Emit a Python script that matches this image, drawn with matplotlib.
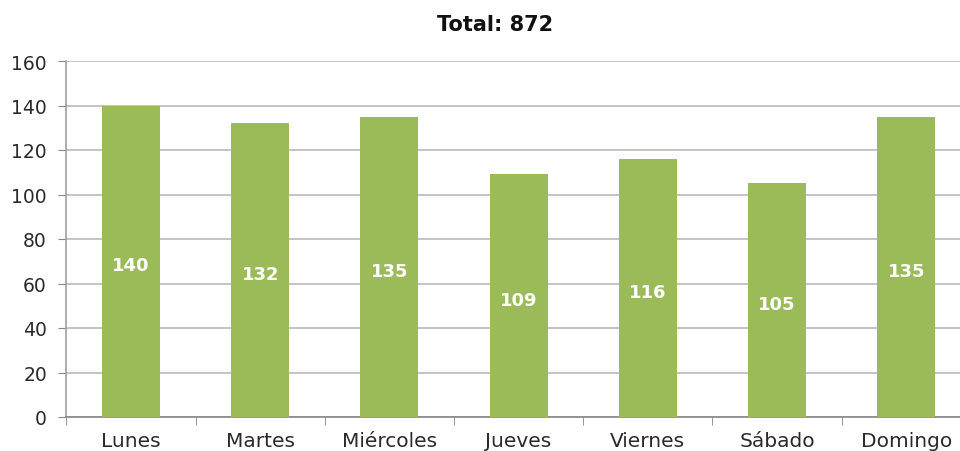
import matplotlib
matplotlib.use("Agg")
import matplotlib.pyplot as plt

categories = ["Lunes", "Martes", "Miércoles", "Jueves", "Viernes", "Sábado", "Domingo"]
values = [140, 132, 135, 109, 116, 105, 135]
title = "Total: 872"
yticks = [0, 20, 40, 60, 80, 100, 120, 140, 160]

plt.rcParams['font.family'] = ['DejaVu Sans']

fig = plt.figure(figsize=(9.6, 4.52), dpi=100)
ax = fig.add_axes([66.4 / 960, (452 - 418) / 452, 904.4 / 960, 356 / 452])

x = list(range(len(categories)))
bars = ax.bar(x, values, width=0.45, color="#9BBB59", zorder=3)
for xi, v in zip(x, values):
    ax.annotate(str(v), (xi, v / 2), xytext=(0, -3), textcoords="offset points",
                ha="center", va="center", color="white",
                fontsize=13, fontweight="bold", zorder=4)

ax.set_xlim(-0.5, len(categories) - 0.5)
ax.set_ylim(0, 160)
ax.set_yticks(yticks)
ax.set_yticklabels([str(t) for t in yticks], fontsize=13.5, color="#2a2a2a")
ax.set_xticks(x)
ax.set_xticklabels(categories, fontsize=14.5, color="#2a2a2a")
ax.set_xticks([i - 0.5 for i in range(len(categories) + 1)], minor=True)
ax.tick_params(axis="x", which="major", length=0, pad=10)
ax.tick_params(axis="x", which="minor", length=6, color="#868686", direction="out")
ax.tick_params(axis="y", length=6, color="#868686", direction="out", pad=8)

ax.grid(axis="y", color="#BFBFBF", linewidth=1.3, zorder=0)
for s in ["top", "right"]:
    ax.spines[s].set_visible(False)
ax.spines["left"].set_color("#A0A0A0")
ax.spines["bottom"].set_color("#868686")
ax.spines["left"].set_linewidth(1.2)
ax.spines["bottom"].set_linewidth(1.2)

fig.text(495 / 960, 1 - 25 / 452, title, ha="center", va="center",
         fontsize=15, fontweight="bold", color="#111111")

fig.savefig("out.png", dpi=100)
